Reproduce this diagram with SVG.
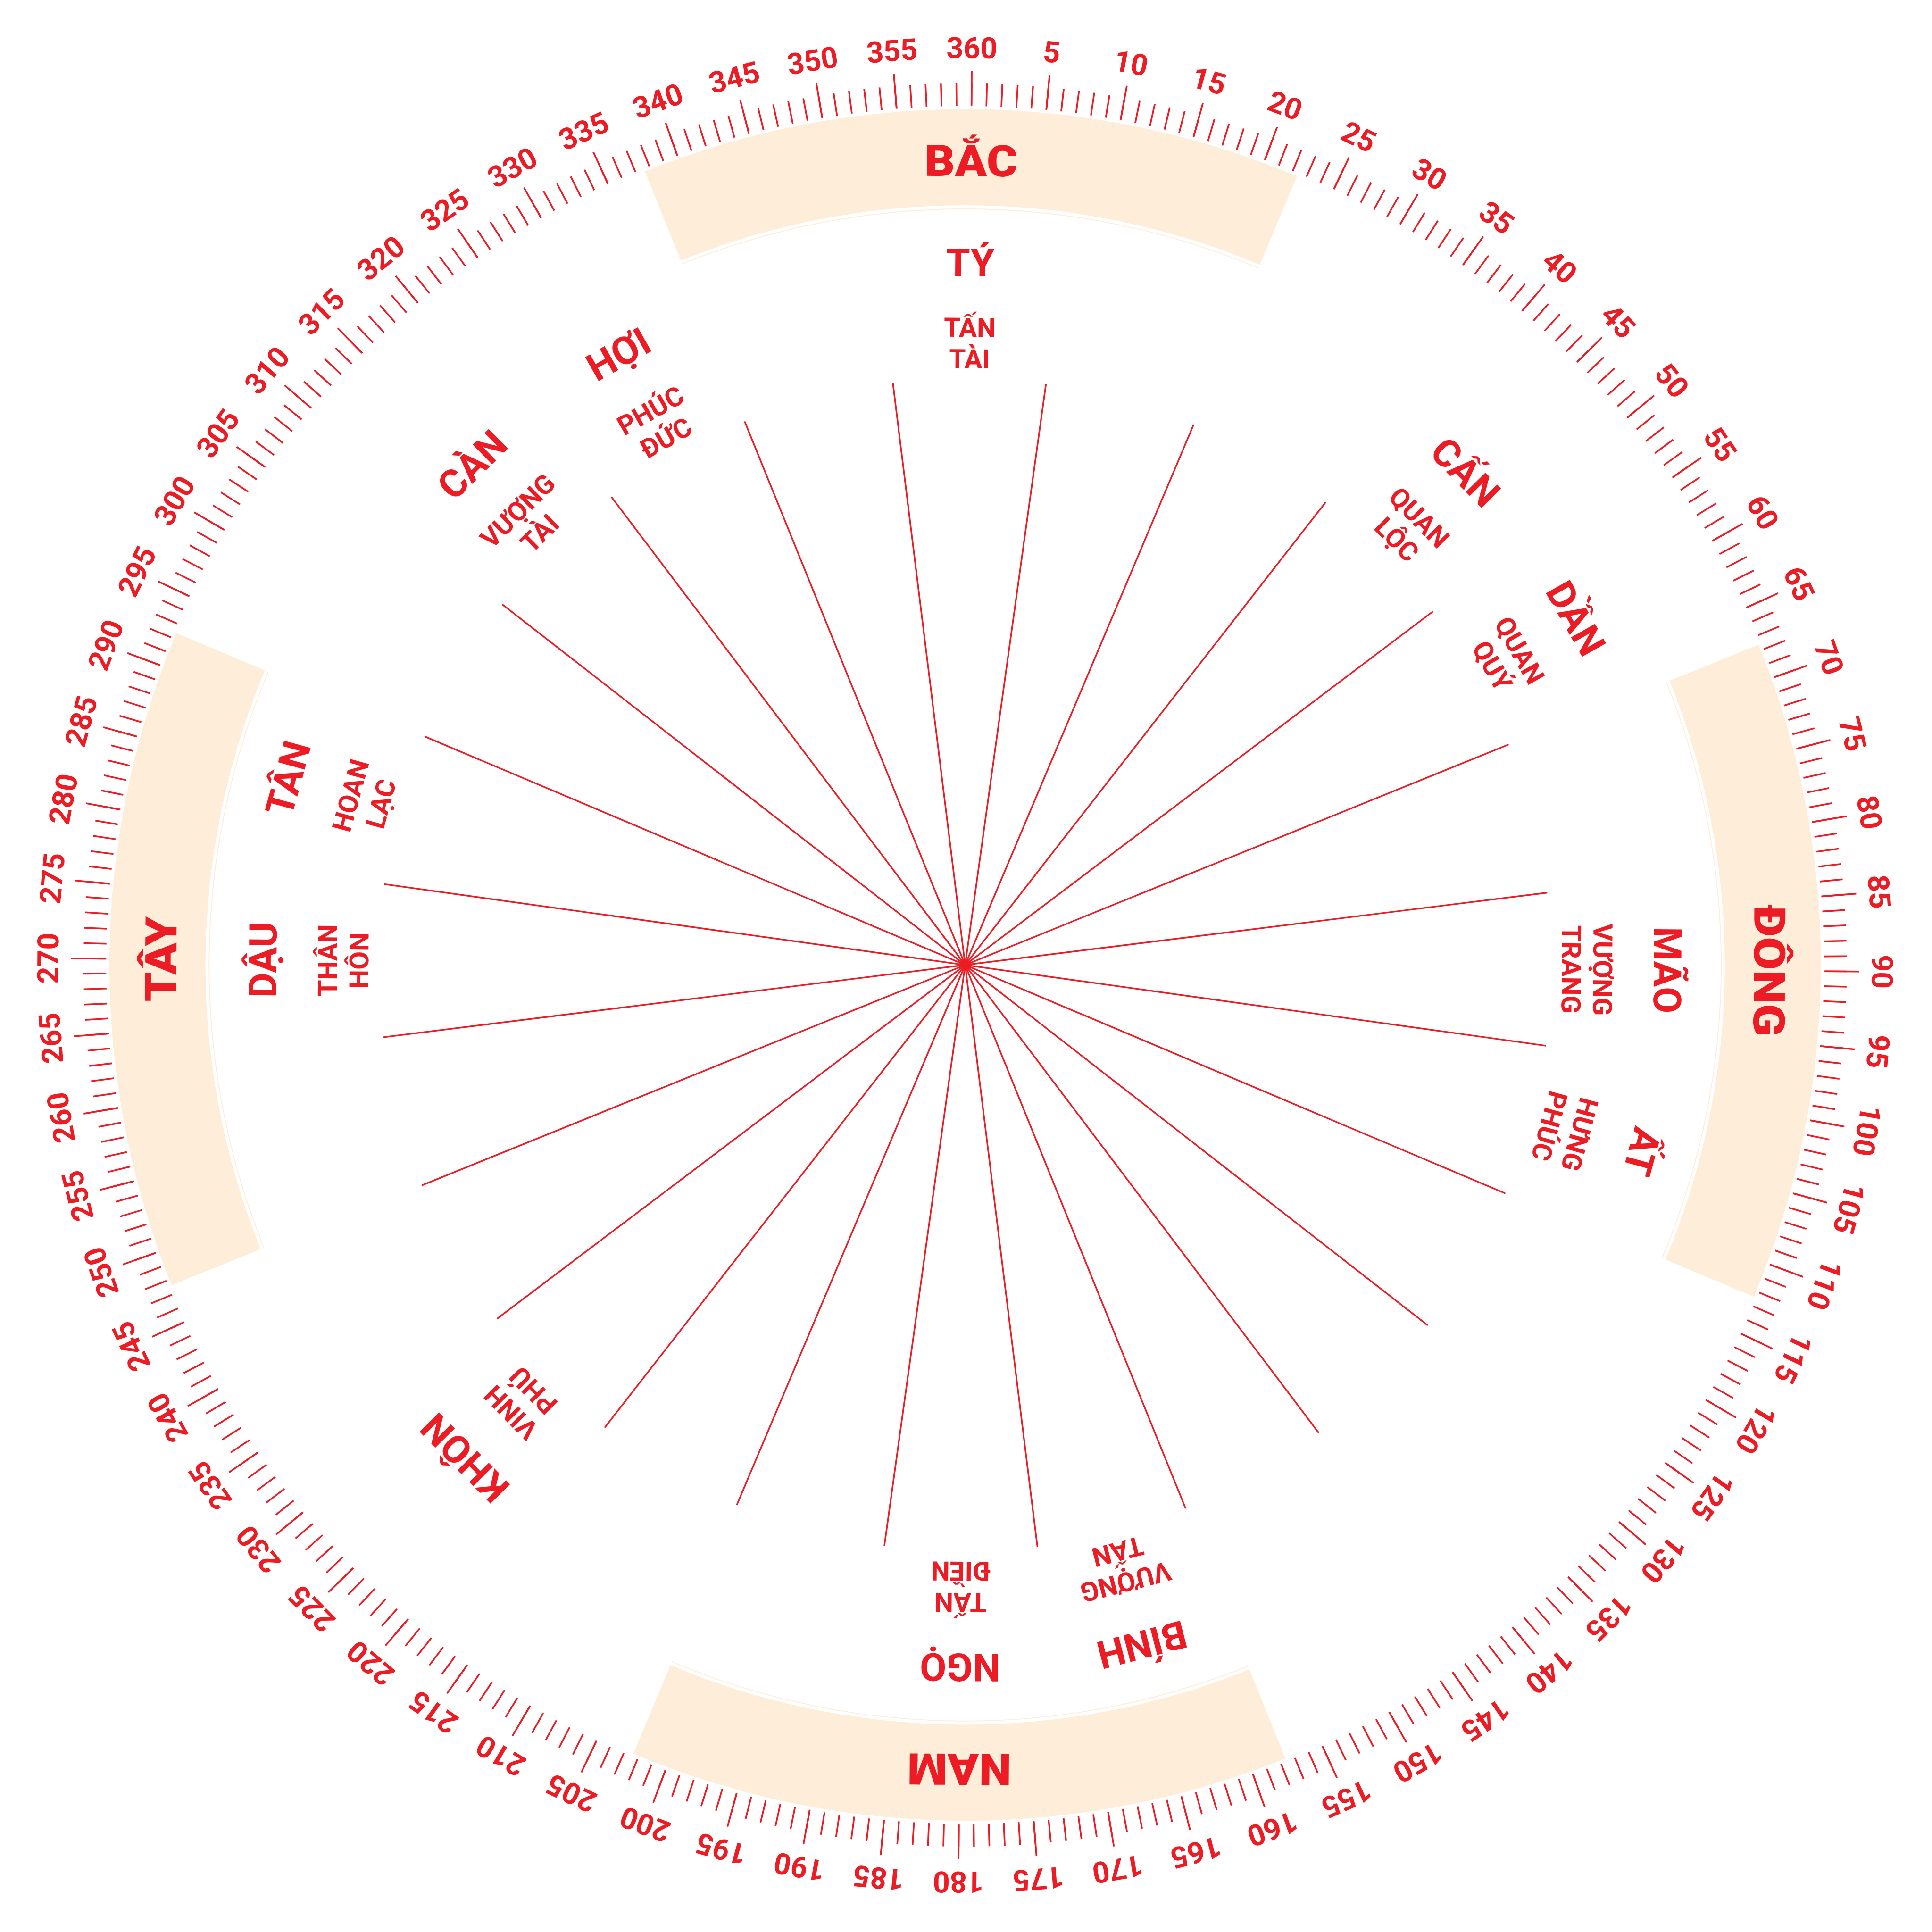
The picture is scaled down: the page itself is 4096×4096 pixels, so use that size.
<svg xmlns="http://www.w3.org/2000/svg" width="4096" height="4096" viewBox="0 0 4096 4096">
<style>
text{font-family:Roboto,"Liberation Sans",sans-serif;fill:#ED1C24;text-anchor:middle}
.num{font-size:65px;font-weight:700}
.dir{font-size:96px;font-weight:900}
.main{font-size:85px;font-weight:700}
.sub{font-size:58.6px;font-weight:700}
.spk line{stroke:#ED1C24;stroke-width:3.5;stroke-linecap:round}
.band{fill:#FDEDD9}
.thin{fill:none;stroke:#FDEDD9;stroke-width:2}
.tick{fill:none;stroke:#ED1C24}
</style>
<defs>
<path id="band" d="M-716.4,-1738.2 A1880,1880 0 0 1 716.4,-1738.2 L636.0,-1543.1 A1669,1669 0 0 0 -636.0,-1543.1 Z"/>
<path id="thin" d="M-633.0,-1535.7 A1661,1661 0 0 1 633.0,-1535.7"/>
</defs>
<rect width="4096" height="4096" fill="#ffffff"/>
<g transform="scale(0.965) translate(2120.4 2120) rotate(0.42)">
<g id="bands">
<g id="band-bac"><use href="#band" class="band"/><use href="#thin" class="thin"/><text class="dir" y="-1733" transform="scale(1.08 1)">BẮC</text></g>
<g id="band-dong" transform="rotate(90)"><use href="#band" class="band"/><use href="#thin" class="thin"/><text class="dir" y="-1733" transform="scale(1.1 1)">ĐÔNG</text></g>
<g id="band-nam" transform="rotate(180)"><use href="#band" class="band"/><use href="#thin" class="thin"/><text class="dir" y="-1733" transform="scale(1.05 1)">NAM</text></g>
<g id="band-tay" transform="rotate(270)"><use href="#band" class="band"/><use href="#thin" class="thin"/><text class="dir" y="-1733" transform="scale(1.08 1)">TÂY</text></g>
</g>
<g id="ticks">
<circle class="tick" r="1912" stroke-width="50" pathLength="360" stroke-dasharray="0.11 0.89" stroke-dashoffset="0.055"/>
<circle class="tick" r="1926.5" stroke-width="75" pathLength="360" stroke-dasharray="0.11 4.89" stroke-dashoffset="0.055"/>
</g>
<g id="numbers" class="num">
<text class="num" y="-1992">360</text>
<text class="num" y="-1992" transform="rotate(5)">5</text>
<text class="num" y="-1992" transform="rotate(10)">10</text>
<text class="num" y="-1992" transform="rotate(15)">15</text>
<text class="num" y="-1992" transform="rotate(20)">20</text>
<text class="num" y="-1992" transform="rotate(25)">25</text>
<text class="num" y="-1992" transform="rotate(30)">30</text>
<text class="num" y="-1992" transform="rotate(35)">35</text>
<text class="num" y="-1992" transform="rotate(40)">40</text>
<text class="num" y="-1992" transform="rotate(45)">45</text>
<text class="num" y="-1992" transform="rotate(50)">50</text>
<text class="num" y="-1992" transform="rotate(55)">55</text>
<text class="num" y="-1992" transform="rotate(60)">60</text>
<text class="num" y="-1992" transform="rotate(65)">65</text>
<text class="num" y="-1992" transform="rotate(70)">70</text>
<text class="num" y="-1992" transform="rotate(75)">75</text>
<text class="num" y="-1992" transform="rotate(80)">80</text>
<text class="num" y="-1992" transform="rotate(85)">85</text>
<text class="num" y="-1992" transform="rotate(90)">90</text>
<text class="num" y="-1992" transform="rotate(95)">95</text>
<text class="num" y="-1992" transform="rotate(100)">100</text>
<text class="num" y="-1992" transform="rotate(105)">105</text>
<text class="num" y="-1992" transform="rotate(110)">110</text>
<text class="num" y="-1992" transform="rotate(115)">115</text>
<text class="num" y="-1992" transform="rotate(120)">120</text>
<text class="num" y="-1992" transform="rotate(125)">125</text>
<text class="num" y="-1992" transform="rotate(130)">130</text>
<text class="num" y="-1992" transform="rotate(135)">135</text>
<text class="num" y="-1992" transform="rotate(140)">140</text>
<text class="num" y="-1992" transform="rotate(145)">145</text>
<text class="num" y="-1992" transform="rotate(150)">150</text>
<text class="num" y="-1992" transform="rotate(155)">155</text>
<text class="num" y="-1992" transform="rotate(160)">160</text>
<text class="num" y="-1992" transform="rotate(165)">165</text>
<text class="num" y="-1992" transform="rotate(170)">170</text>
<text class="num" y="-1992" transform="rotate(175)">175</text>
<text class="num" y="-1992" transform="rotate(180)">180</text>
<text class="num" y="-1992" transform="rotate(185)">185</text>
<text class="num" y="-1992" transform="rotate(190)">190</text>
<text class="num" y="-1992" transform="rotate(195)">195</text>
<text class="num" y="-1992" transform="rotate(200)">200</text>
<text class="num" y="-1992" transform="rotate(205)">205</text>
<text class="num" y="-1992" transform="rotate(210)">210</text>
<text class="num" y="-1992" transform="rotate(215)">215</text>
<text class="num" y="-1992" transform="rotate(220)">220</text>
<text class="num" y="-1992" transform="rotate(225)">225</text>
<text class="num" y="-1992" transform="rotate(230)">230</text>
<text class="num" y="-1992" transform="rotate(235)">235</text>
<text class="num" y="-1992" transform="rotate(240)">240</text>
<text class="num" y="-1992" transform="rotate(245)">245</text>
<text class="num" y="-1992" transform="rotate(250)">250</text>
<text class="num" y="-1992" transform="rotate(255)">255</text>
<text class="num" y="-1992" transform="rotate(260)">260</text>
<text class="num" y="-1992" transform="rotate(265)">265</text>
<text class="num" y="-1992" transform="rotate(270)">270</text>
<text class="num" y="-1992" transform="rotate(275)">275</text>
<text class="num" y="-1992" transform="rotate(280)">280</text>
<text class="num" y="-1992" transform="rotate(285)">285</text>
<text class="num" y="-1992" transform="rotate(290)">290</text>
<text class="num" y="-1992" transform="rotate(295)">295</text>
<text class="num" y="-1992" transform="rotate(300)">300</text>
<text class="num" y="-1992" transform="rotate(305)">305</text>
<text class="num" y="-1992" transform="rotate(310)">310</text>
<text class="num" y="-1992" transform="rotate(315)">315</text>
<text class="num" y="-1992" transform="rotate(320)">320</text>
<text class="num" y="-1992" transform="rotate(325)">325</text>
<text class="num" y="-1992" transform="rotate(330)">330</text>
<text class="num" y="-1992" transform="rotate(335)">335</text>
<text class="num" y="-1992" transform="rotate(340)">340</text>
<text class="num" y="-1992" transform="rotate(345)">345</text>
<text class="num" y="-1992" transform="rotate(350)">350</text>
<text class="num" y="-1992" transform="rotate(355)">355</text>
</g>
<g id="spokes" class="spk">
<line y2="-1287" transform="rotate(7.5)"/>
<line y2="-1287" transform="rotate(22.5)"/>
<line y2="-1287" transform="rotate(37.5)"/>
<line y2="-1287" transform="rotate(52.5)"/>
<line y2="-1287" transform="rotate(67.5)"/>
<line y2="-1287" transform="rotate(82.5)"/>
<line y2="-1287" transform="rotate(97.5)"/>
<line y2="-1287" transform="rotate(112.5)"/>
<line y2="-1287" transform="rotate(127.5)"/>
<line y2="-1287" transform="rotate(142.5)"/>
<line y2="-1287" transform="rotate(157.5)"/>
<line y2="-1287" transform="rotate(172.5)"/>
<line y2="-1287" transform="rotate(187.5)"/>
<line y2="-1287" transform="rotate(202.5)"/>
<line y2="-1287" transform="rotate(217.5)"/>
<line y2="-1287" transform="rotate(232.5)"/>
<line y2="-1287" transform="rotate(247.5)"/>
<line y2="-1287" transform="rotate(262.5)"/>
<line y2="-1287" transform="rotate(277.5)"/>
<line y2="-1287" transform="rotate(292.5)"/>
<line y2="-1287" transform="rotate(307.5)"/>
<line y2="-1287" transform="rotate(322.5)"/>
<line y2="-1287" transform="rotate(337.5)"/>
<line y2="-1287" transform="rotate(352.5)"/>
</g>
<g id="node-ty" transform="rotate(0)"><text class="main" y="-1513">TÝ</text><text class="sub"><tspan x="0" y="-1380">TẤN</tspan><tspan x="0" y="-1311">TÀI</tspan></text></g>
<g id="node-hoi" transform="rotate(330)"><text class="main" y="-1513">HỢI</text><text class="sub"><tspan x="0" y="-1380">PHÚC</tspan><tspan x="0" y="-1311">ĐỨC</tspan></text></g>
<g id="node-can" transform="rotate(315)"><text class="main" y="-1513">CÀN</text><text class="sub"><tspan x="0" y="-1380">VƯỢNG</tspan><tspan x="0" y="-1311">TÀI</tspan></text></g>
<g id="node-can2" transform="rotate(45)"><text class="main" y="-1513">CẤN</text><text class="sub"><tspan x="0" y="-1380">QUAN</tspan><tspan x="0" y="-1311">LỘC</tspan></text></g>
<g id="node-dan" transform="rotate(60)"><text class="main" y="-1513">DẦN</text><text class="sub"><tspan x="0" y="-1380">QUAN</tspan><tspan x="0" y="-1311">QUÝ</tspan></text></g>
<g id="node-mao" transform="rotate(90)"><text class="main" y="-1513">MÃO</text><text class="sub"><tspan x="0" y="-1380">VƯỢNG</tspan><tspan x="0" y="-1311">TRANG</tspan></text></g>
<g id="node-at" transform="rotate(105)"><text class="main" y="-1513">ẤT</text><text class="sub"><tspan x="0" y="-1380">HƯNG</tspan><tspan x="0" y="-1311">PHÚC</tspan></text></g>
<g id="node-binh" transform="rotate(165)"><text class="main" y="-1513">BÍNH</text><text class="sub"><tspan x="0" y="-1380">VƯỢNG</tspan><tspan x="0" y="-1311">TẤN</tspan></text></g>
<g id="node-ngo" transform="rotate(180)"><text class="main" y="-1513">NGỌ</text><text class="sub"><tspan x="0" y="-1380">TẤN</tspan><tspan x="0" y="-1311">ĐIỀN</tspan></text></g>
<g id="node-khon" transform="rotate(225)"><text class="main" y="-1513">KHÔN</text><text class="sub"><tspan x="0" y="-1380">VINH</tspan><tspan x="0" y="-1311">PHÚ</tspan></text></g>
<g id="node-dau" transform="rotate(270)"><text class="main" y="-1513">DẬU</text><text class="sub"><tspan x="0" y="-1380">THÂN</tspan><tspan x="0" y="-1311">HÔN</tspan></text></g>
<g id="node-tan" transform="rotate(285)"><text class="main" y="-1513">TÂN</text><text class="sub"><tspan x="0" y="-1380">HOAN</tspan><tspan x="0" y="-1311">LẠC</tspan></text></g>
</g>
</svg>
